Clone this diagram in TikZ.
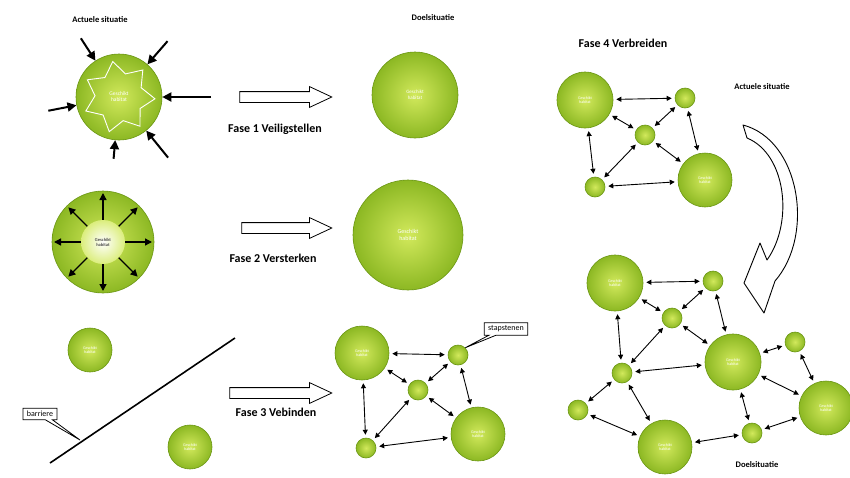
\documentclass[tikz,border=0pt]{standalone}
\usepackage{fontspec}
\setmainfont{Carlito}
\usepackage{tikz}
\usetikzlibrary{arrows.meta,shapes.geometric,shapes.arrows,shapes.callouts,positioning}
\definecolor{habitatlight}{HTML}{D2E95C}
\definecolor{habitatdark}{HTML}{8CB823}
\definecolor{habitatrim}{HTML}{6A9612}

\begin{document}
\begin{tikzpicture}[x=1pt,y=-1pt,
	habitat/.style={circle,draw=habitatrim,line width=0.6pt,inner sep=0pt,shading=radial,inner color=habitatlight,outer color=habitatdark,text=white,align=center,font=\fontsize{5}{5.5}\selectfont},
	patch/.style={habitat,minimum size=54pt,font=\fontsize{4}{4.5}\selectfont},
	stone/.style={habitat,minimum size=20pt},
	link/.style={{Triangle[length=5pt,width=5pt]}-{Triangle[length=5pt,width=5pt]},line width=0.9pt,shorten <=3pt,shorten >=3pt},
	push/.style={-{Triangle[length=9pt,width=9pt]},line width=2pt},
	fase/.style={single arrow,draw,line width=0.8pt,fill=white,inner sep=0pt,text height=10pt,text depth=0pt,single arrow head extend=5pt,single arrow head indent=0pt,single arrow tip angle=50},
	title/.style={font=\bfseries\fontsize{12}{14}\selectfont},
	caption/.style={font=\bfseries\fontsize{8.5}{10}\selectfont},
	note/.style={rectangle callout,draw,line width=0.8pt,fill=white,font=\fontsize{8}{9}\selectfont,inner xsep=4pt,inner ysep=3pt}]
	
	\fill[white] (0,0) rectangle (850,477);
	\useasboundingbox (0,0) rectangle (850,477);
	
	\node[caption] (act1) at (100,20) {Actuele situatie};
	\node[caption] (doel1) at (433,18) {Doelsituatie};
	
	\node[habitat,minimum size=86pt] (sit1) at (119,97) {};
	\node[star,star points=7,star point ratio=1.5,minimum size=72pt,draw=white,line width=0.9pt,rotate=10] (ster) at (sit1) {};
	\node[text=white,align=center,font=\fontsize{5.5}{6}\selectfont] (sit1txt) at (sit1) {Geschikt\\habitat};
	\foreach \a/\d [count=\i] in {237/70,311/74,0/92,169/72,95/62,51/78}
	{
		\path (sit1) ++(\a:\d) coordinate (in\i);
		\draw[push] (in\i) -- (sit1);
	}
	
	\node[fase,minimum height=92pt] (arr1) at (280,97) {};
	\node[title] (f1) at (275,129) {Fase 1 Veiligstellen};
	\node[habitat,minimum size=86pt] (doel1c) at (415,95) {Geschikt\\habitat};
	
	\node[habitat,minimum size=102pt] (sit2) at (103,242) {};
	\node[circle,inner sep=0pt,minimum size=44pt,shading=radial,inner color=white,outer color=habitatlight!80!white,align=center,text=black!70,font=\bfseries\fontsize{4.5}{5}\selectfont] (core) at (sit2) {Geschikt\\habitat};
	\foreach \a in {0,45,...,315}
	{
		\path (sit2) ++(\a:49) coordinate (out\a);
		\draw[push,line width=1.4pt,-{Triangle[length=7pt,width=7pt]}] (core) -- (out\a);
	}
	
	\node[fase,minimum height=90pt] (arr2) at (281,228) {};
	\node[title] (f2) at (273,258) {Fase 2 Versterken};
	\node[habitat,minimum size=110pt,font=\fontsize{6}{6.5}\selectfont] (doel2c) at (408,235) {Geschikt\\habitat};
	
	\node[habitat,minimum size=44pt,font=\fontsize{4}{4.5}\selectfont] (los1) at (90,350) {Geschikt\\habitat};
	\node[habitat,minimum size=44pt,font=\fontsize{4}{4.5}\selectfont] (los2) at (190,447) {Geschikt\\habitat};
	\coordinate (bar1) at (50,463);
	\coordinate (bar2) at (235,338);
	\draw[line width=1.6pt] (bar1) -- (bar2);
	\node[note,callout absolute pointer={(80,440)}] (barriere) at (40,414) {barriere};
	
	\node[fase,minimum height=102pt] (arr3) at (275,393) {};
	\node[title] (f3) at (276,412) {Fase 3 Vebinden};
	
	\node[patch] (b1) at (362,353) {Geschikt\\habitat};
	\node[stone] (b2) at (458,355) {};
	\node[stone] (b3) at (418,390) {};
	\node[stone] (b4) at (366,448) {};
	\node[patch] (b5) at (478,434) {Geschikt\\habitat};
	\foreach \u/\v in {b1/b2,b1/b3,b2/b3,b2/b5,b3/b5,b3/b4,b1/b4,b4/b5}
	\draw[link] (\u) -- (\v);
	\node[note,callout absolute pointer={(b2.north east)}] (stap) at (506,329) {stapstenen};
	
	\node[title] (f4) at (623,43) {Fase 4 Verbreiden};
	\node[caption] (act2) at (762,87) {Actuele situatie};
	
	\node[patch,minimum size=56pt] (c1) at (585,100) {Geschikt\\habitat};
	\node[stone] (c2) at (685,98) {};
	\node[stone] (c3) at (645,135) {};
	\node[stone] (c4) at (595,187) {};
	\node[patch] (c5) at (705,180) {Geschikt\\habitat};
	\foreach \u/\v in {c1/c2,c1/c3,c2/c3,c2/c5,c3/c5,c3/c4,c1/c4,c4/c5}
	\draw[link] (\u) -- (\v);
	
	\filldraw[fill=white,line width=0.9pt,line join=round]
	(743,125) .. controls (800,140) and (815,235) .. (775,281) -- (764,313) -- (744,283) -- (760,243) -- (767,260) .. controls (794,222) and (786,154) .. (747,138) -- cycle;
	
	\node[patch,minimum size=56pt] (d1) at (615,283) {Geschikt\\habitat};
	\node[stone] (d2) at (713,281) {};
	\node[stone] (d3) at (672,318) {};
	\node[patch,minimum size=56pt] (d4) at (733,362) {Geschikt\\habitat};
	\node[stone] (d5) at (795,342) {};
	\node[stone] (d6) at (622,373) {};
	\node[patch] (d7) at (826,408) {Geschikt\\habitat};
	\node[stone] (d8) at (578,410) {};
	\node[patch] (d9) at (665,447) {Geschikt\\habitat};
	\node[stone] (d10) at (752,433) {};
	\foreach \u/\v in {d1/d2,d1/d3,d2/d3,d2/d4,d3/d4,d3/d6,d1/d6,d6/d4,d4/d5,d5/d7,d4/d7,d4/d10,d10/d7,d6/d8,d6/d9,d8/d9,d9/d10}
	\draw[link] (\u) -- (\v);
	\node[caption] (doel2) at (757,465) {Doelsituatie};
\end{tikzpicture}
\end{document}
